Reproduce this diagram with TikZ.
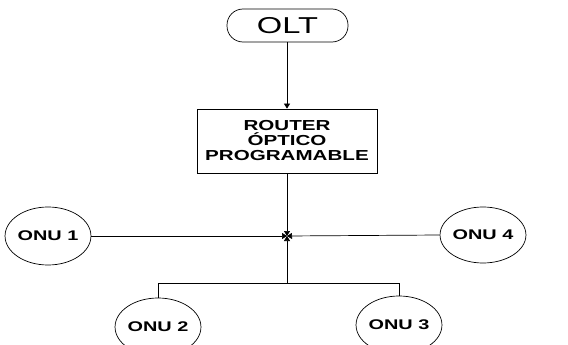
\documentclass[tikz,border=0pt]{standalone}
\usepackage{fontspec}
\setmainfont{Liberation Sans}
\newfontfamily\widesans[FakeStretch=1.42]{Liberation Sans}
\usepackage{tikz}
\usetikzlibrary{arrows.meta,positioning,calc,shapes.geometric}

\tikzset{
  link/.style={draw=black, line width=0.7pt},
  tip/.style={link, -{Triangle[length=5pt,width=6pt]}},
  onu/.style={draw=black, line width=0.7pt, ellipse, minimum width=81pt, minimum height=58pt,
    inner sep=0pt, font=\widesans\fontsize{14}{16}\selectfont\bfseries},
}

\begin{document}
\begin{tikzpicture}[x=1pt,y=-1pt]
  \useasboundingbox (0,0) rectangle (568,345);

  % head end and router
  \node[draw=black, line width=0.7pt, rounded corners=16pt, minimum width=121pt, minimum height=33pt,
    inner sep=0pt, font=\widesans\fontsize{23}{25}\selectfont] (olt) at (287.5,25.5) {OLT};
  \node[draw=black, line width=0.7pt, minimum width=180pt, minimum height=64pt, inner sep=0pt,
    align=center, font=\widesans\fontsize{14.5}{15}\selectfont\bfseries] (router) at (287,141)
    {ROUTER\\ÓPTICO\\PROGRAMABLE};

  % splitting point and distribution bus
  \coordinate (jn) at (287,236);
  \coordinate (bus) at (287,283);

  % subscriber units
  \node[onu] (onu1) at (48,236) {ONU 1};
  \node[onu, minimum width=79pt, minimum height=56pt] (onu4) at (483,235) {ONU 4};
  \node[onu] (onu2) at (158,327) {ONU 2};
  \node[onu] (onu3) at (399,325) {ONU 3};

  \draw[tip] (olt.south -| router.north) -- (router.north);
  \draw[tip] (router.south) -- (jn);
  \draw[tip] (onu1.east) -- (jn);
  \draw[tip] (onu4.west) -- (jn);
  \draw[tip] (bus) -- (jn);
  \draw[link] (onu2.north) -- (onu2.north |- bus) -- (onu3.north |- bus) -- (onu3.north);
\end{tikzpicture}
\end{document}
